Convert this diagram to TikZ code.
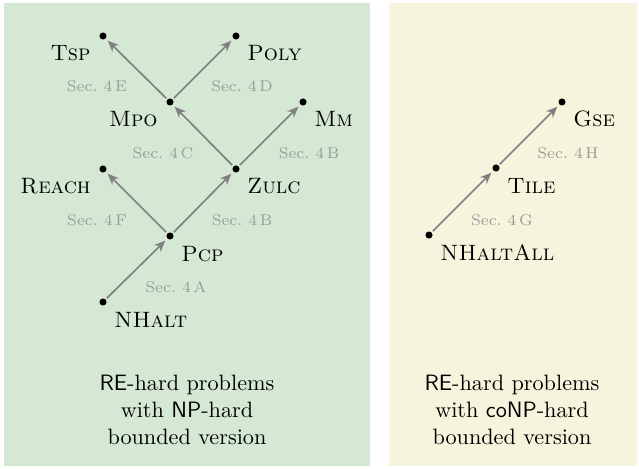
\documentclass[tikz,border=0pt]{standalone}
\usetikzlibrary{arrows.meta}
\definecolor{panelgreen}{HTML}{D5E8D4}
\definecolor{panelcream}{HTML}{F6F4DC}
\definecolor{arrgray}{HTML}{808080}
\definecolor{secgray}{HTML}{9A9A9A}
\begin{document}
\begin{tikzpicture}[x=0.45pt,y=-0.45pt,
  dot/.style={circle,fill=black,inner sep=0pt,minimum size=3.2pt},
  arr/.style={draw=arrgray,line width=0.75pt,-{Stealth[length=5pt,width=4.2pt]},shorten >=1.2pt,shorten <=0.6pt},
  lbl/.style={font=\normalsize,inner sep=0pt},
  sec/.style={font=\scriptsize,text=secgray,inner sep=0pt},
  bottomtext/.style={align=center,font=\normalsize,inner sep=0pt}]
\useasboundingbox (0,0) rectangle (639,468);
\fill[panelgreen] (4,3) rectangle (370,466);
\fill[panelcream] (389,3) rectangle (637,466);
% dots
\node[dot] (tsp) at (103,36) {};
\node[dot] (poly) at (236,36) {};
\node[dot] (mpo) at (170,102) {};
\node[dot] (mm) at (303,102) {};
\node[dot] (reach) at (103,169) {};
\node[dot] (zulc) at (236,169) {};
\node[dot] (pcp) at (170,236) {};
\node[dot] (nhalt) at (103,302) {};
\node[dot] (nhaltall) at (429,235) {};
\node[dot] (tile) at (496,168) {};
\node[dot] (gse) at (562,102) {};
% names
\node[lbl,anchor=base east] (ltsp) at (91,61) {\textsc{Tsp}};
\node[lbl,anchor=base west] (lpoly) at (247,61) {\textsc{Poly}};
\node[lbl,anchor=base east] (lmpo) at (158,127) {\textsc{Mpo}};
\node[lbl,anchor=base west] (lmm) at (314,127) {\textsc{Mm}};
\node[lbl,anchor=base east] (lreach) at (91,194) {\textsc{Reach}};
\node[lbl,anchor=base west] (lzulc) at (247,194) {\textsc{Zulc}};
\node[lbl,anchor=base west] (lpcp) at (181,261) {\textsc{Pcp}};
\node[lbl,anchor=base west] (lnhalt) at (114,327) {\textsc{NHalt}};
\node[lbl,anchor=base west] (lnhaltall) at (440,260) {\textsc{NHaltAll}};
\node[lbl,anchor=base west] (ltile) at (507,193) {\textsc{Tile}};
\node[lbl,anchor=base west] (lgse) at (573,127) {\textsc{Gse}};
% arrows
\draw[arr] (mpo) -- (tsp);
\draw[arr] (mpo) -- (poly);
\draw[arr] (zulc) -- (mpo);
\draw[arr] (zulc) -- (mm);
\draw[arr] (pcp) -- (reach);
\draw[arr] (pcp) -- (zulc);
\draw[arr] (nhalt) -- (pcp);
\draw[arr] (nhaltall) -- (tile);
\draw[arr] (tile) -- (gse);
% section labels
\node[sec,anchor=base] (s4e) at (97,92) {Sec.~4\,E};
\node[sec,anchor=base] (s4d) at (242,92) {Sec.~4\,D};
\node[sec,anchor=base] (s4c) at (163,158) {Sec.~4\,C};
\node[sec,anchor=base] (s4b) at (309,158) {Sec.~4\,B};
\node[sec,anchor=base] (s4f) at (97,225) {Sec.~4\,F};
\node[sec,anchor=base] (s4b2) at (242,225) {Sec.~4\,B};
\node[sec,anchor=base] (s4a) at (176,292) {Sec.~4\,A};
\node[sec,anchor=base] (s4g) at (502,225) {Sec.~4\,G};
\node[sec,anchor=base] (s4h) at (568,158) {Sec.~4\,H};
% bottom texts
\node[bottomtext] (tleft) at (187,410) {\textsf{RE}-hard problems\\with \textsf{NP}-hard\\bounded version};
\node[bottomtext] (tright) at (512,410) {\textsf{RE}-hard problems\\with \textsf{coNP}-hard\\bounded version};
\end{tikzpicture}
\end{document}
